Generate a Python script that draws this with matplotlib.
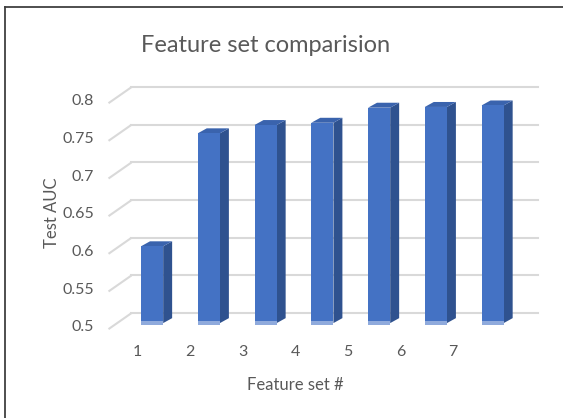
import numpy as np
import matplotlib.pyplot as plt
from matplotlib.patches import Polygon, Rectangle
from matplotlib.lines import Line2D

# test AUC per feature set
feature_sets = ['1', '2', '3', '4', '5', '6', '7']
auc = [0.602, 0.752, 0.763, 0.766, 0.786, 0.787, 0.789]
yticks = [0.5, 0.55, 0.6, 0.65, 0.7, 0.75, 0.8]
ytick_labels = ['0.5', '0.55', '0.6', '0.65', '0.7', '0.75', '0.8']

FRONT = '#4472C4'
SIDE = '#2F528F'
TOP = '#3A63AD'
BASE = '#8FAADC'
GRID = '#D9D9D9'
TXT = '#595959'

# fake 3d: offsets (in data units) for depth of the floor and of the bars
BAR_W = 0.39
SIDE_DX, SIDE_DY = 0.158, 0.0066
BACK_DX, BACK_DY = 0.253, 0.0133
FRONT_DX, FRONT_DY = -0.152, -0.008
Y0 = 0.5

fig = plt.figure(figsize=(5.63, 4.18), dpi=100)
ax = fig.add_axes([0, 0, 1, 1])
ax.set_xlim(-1.68, 8.24)
ax.set_ylim(0.374, 0.929)
ax.axis('off')

x = np.arange(1, len(auc) + 1)
x_left = x[0] + FRONT_DX - 0.616
x_right = x[-1] + 0.796

# gridlines: slanted piece on the left wall, then along the back wall
for v, lab in zip(yticks, ytick_labels):
    ax.plot([x_left, x_left + BACK_DX - FRONT_DX],
            [v + FRONT_DY, v + BACK_DY], color=GRID, lw=1.5,
            solid_capstyle='butt', zorder=1)
    ax.plot([x_left + BACK_DX - FRONT_DX, x_right],
            [v + BACK_DY, v + BACK_DY], color=GRID, lw=1.5, zorder=1)
    ax.text(x_left - 0.26, v + FRONT_DY + 0.0025, lab,
            ha='right', va='center', fontsize=11.5, color=TXT, family='Lato')

for xi, h in zip(x, auc):
    l, r = xi - BAR_W / 2, xi + BAR_W / 2
    # side face
    ax.add_patch(Polygon([(r, Y0), (r + SIDE_DX, Y0 + SIDE_DY),
                          (r + SIDE_DX, h + SIDE_DY), (r, h)],
                         closed=True, fc=SIDE, ec='none', zorder=3))
    # top face
    ax.add_patch(Polygon([(l, h), (r, h), (r + SIDE_DX, h + SIDE_DY),
                          (l + SIDE_DX, h + SIDE_DY)],
                         closed=True, fc=TOP, ec='none', zorder=3))
    # front face
    ax.add_patch(Rectangle((l, Y0), BAR_W, h - Y0, fc=FRONT, ec='none', zorder=4))
    ax.add_patch(Rectangle((l, Y0 - 0.002), BAR_W, 0.0045, fc=BASE, ec='none', zorder=5))

# category labels along the front edge of the floor
for i, lab in enumerate(feature_sets):
    ax.text(0.736 + i * 0.928, 0.461, lab, ha='center', va='center',
            fontsize=11.5, color=TXT, family='Lato')

fig.text(266 / 563, 1 - 46 / 418, 'Feature set comparision', ha='center', va='center',
         fontsize=17, color=TXT, family='Lato')
fig.text(295 / 563, 1 - 385 / 418, 'Feature set #', ha='center', va='center',
         fontsize=12, color=TXT, family='Lato')
fig.text(52 / 563, 1 - 213 / 418, 'Test AUC', ha='center', va='center',
         rotation=90, fontsize=12, color=TXT, family='Lato')

# chart area border
fig.add_artist(Line2D([4.5 / 563, 4.5 / 563], [0, 1 - 7 / 418],
                      transform=fig.transFigure, color='#404040', lw=1.3))
fig.add_artist(Line2D([4.5 / 563, 1], [1 - 7 / 418, 1 - 7 / 418],
                      transform=fig.transFigure, color='#404040', lw=1.3))

fig.savefig('out.png', dpi=100)
